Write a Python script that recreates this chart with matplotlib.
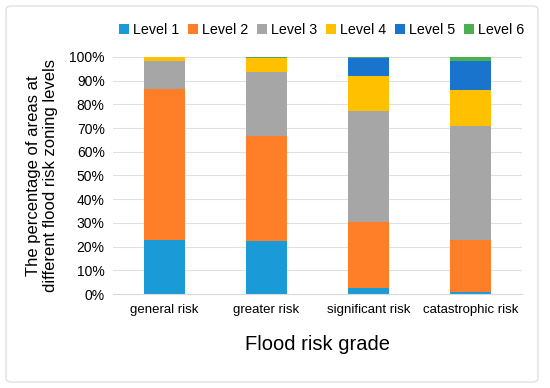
import matplotlib.pyplot as plt
import numpy as np
from matplotlib.patches import FancyBboxPatch
from matplotlib.ticker import PercentFormatter

plt.rcParams['font.family'] = ['Liberation Sans', 'DejaVu Sans']

grades = ["general risk", "greater risk", "significant risk", "catastrophic risk"]
levels = ["Level 1", "Level 2", "Level 3", "Level 4", "Level 5", "Level 6"]
level1 = [22.8, 22.4, 2.4, 0.7]
level2 = [63.6, 44.4, 28.1, 21.9]
level3 = [11.9, 27.0, 46.7, 48.3]
level4 = [1.7, 5.6, 14.9, 15.2]
level5 = [0.0, 0.3, 7.5, 12.2]
level6 = [0.0, 0.3, 0.4, 1.7]
colors = ["#1a9ad6", "#fe7f27", "#a6a6a6", "#ffc000", "#1874cd", "#4caf50"]

fig = plt.figure(figsize=(5.5, 3.88), dpi=100)
ax = fig.add_axes([113 / 550, 1 - 294 / 388, 409 / 550, 237 / 388])

# light chart-area frame like the Excel export
fig.patches.append(FancyBboxPatch((6 / 550, 6 / 388), 532 / 550, 376 / 388,
                                  boxstyle="round,pad=0,rounding_size=0.01",
                                  transform=fig.transFigure, fill=False,
                                  edgecolor="#d9d9d9", linewidth=0.8))

x = np.arange(len(grades))
bottom = np.zeros(len(grades))
for name, vals, c in zip(levels, [level1, level2, level3, level4, level5, level6], colors):
    ax.bar(x, vals, 0.4, bottom=bottom, color=c, label=name, zorder=2)
    bottom += np.array(vals)

ax.set_xlim(-0.5, 3.5)
ax.set_ylim(0, 100)
ax.set_yticks(np.arange(0, 101, 10))
ax.yaxis.set_major_formatter(PercentFormatter(decimals=0))
ax.set_xticks(x)
ax.set_xticklabels(grades, fontsize=9.5)
ax.tick_params(axis='y', labelsize=10, length=0, pad=6)
ax.tick_params(axis='x', length=0, pad=7)
ax.grid(axis='y', color="#e0e0e0", linewidth=0.8, zorder=0)
for s in ["top", "right", "left"]:
    ax.spines[s].set_visible(False)
ax.spines["bottom"].set_color("#d9d9d9")

ax.set_ylabel("The percentage of areas at\ndifferent flood risk zoning levels",
              fontsize=12, labelpad=8)
ax.set_xlabel("Flood risk grade", fontsize=14.5, labelpad=14)

ax.legend(loc="lower center", bbox_to_anchor=(0.51, 1.06), ncol=6, frameon=False,
          fontsize=10.3, handlelength=0.7, handleheight=0.7, handletextpad=0.3,
          columnspacing=0.6, borderaxespad=0)

fig.savefig("out.png", dpi=100)
